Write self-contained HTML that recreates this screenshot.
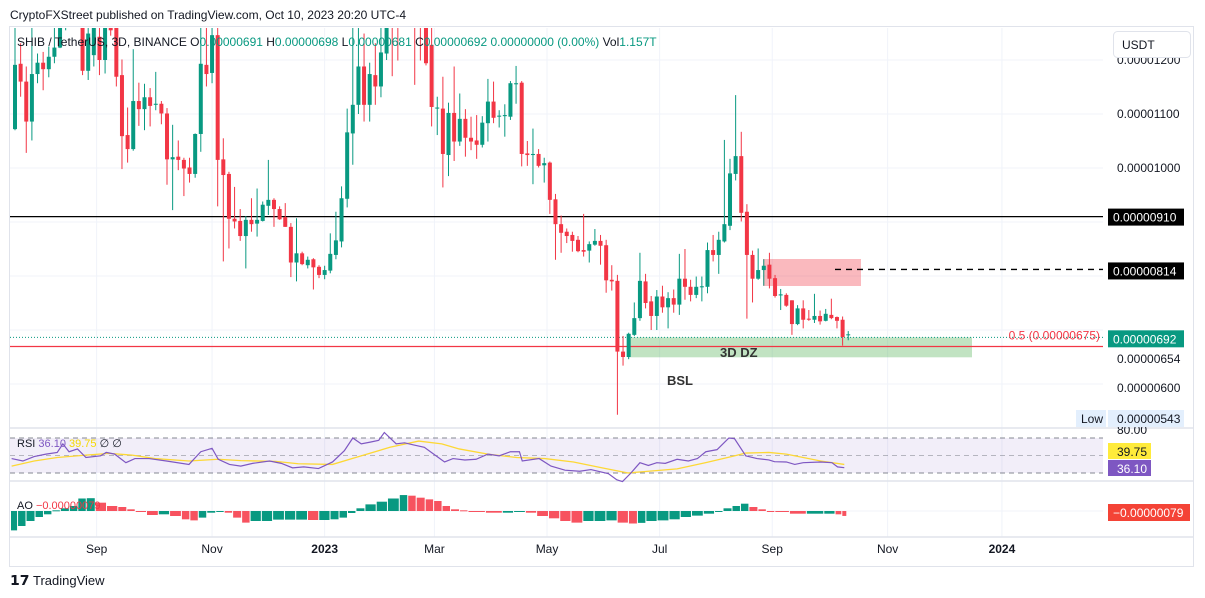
<!DOCTYPE html>
<html><head><meta charset="utf-8"><style>
html,body{margin:0;padding:0;background:#fff;width:1205px;height:598px;overflow:hidden}
svg{display:block;font-family:"Liberation Sans",sans-serif}
</style></head><body>
<svg id="c" width="1205" height="598" viewBox="0 0 1205 598">
<defs><clipPath id="mainClip"><rect x="10" y="28" width="1093" height="400"/></clipPath>
<clipPath id="rsiClip"><rect x="10" y="429" width="1093" height="51"/></clipPath></defs>
<text x="10" y="19" font-size="12" fill="#131722">CryptoFXStreet published on TradingView.com, Oct 10, 2023 20:20 UTC-4</text>
<rect x="9.5" y="26.5" width="1184" height="540" fill="#fff" stroke="#e0e3eb"/>
<g id="grid"></g>
<g id="main" clip-path="url(#mainClip)"></g>
<g id="rsi"></g>
<g id="ao"></g>
<g id="axis"></g>
<text x="17" y="46" font-size="12" fill="#131722">SHIB / TetherUS, 3D, BINANCE  <tspan>O</tspan><tspan fill="#089981">0.00000691</tspan>  H<tspan fill="#089981">0.00000698</tspan>  L<tspan fill="#089981">0.00000681</tspan>  C<tspan fill="#089981">0.00000692</tspan>  <tspan fill="#089981">0.00000000 (0.00%)</tspan>  Vol<tspan fill="#089981">1.157T</tspan></text>
<rect x="1113.5" y="31.5" width="77" height="26" rx="4" fill="#fff" stroke="#e0e3eb"/>
<text x="1122" y="49" font-size="12" fill="#131722">USDT</text>
<text x="17" y="447" font-size="11" fill="#131722">RSI <tspan fill="#7e57c2">36.10</tspan> <tspan fill="#f5d800">39.75</tspan> ∅ ∅</text>
<text x="17" y="509" font-size="11" fill="#131722">AO <tspan fill="#f23645">−0.00000079</tspan></text>
<g><text x="10" y="585" font-size="14" font-weight="bold" fill="#131722">𝟭𝟳</text><text x="33" y="585" font-size="13" fill="#131722">TradingView</text></g>
</svg>
<script>
const opens=[1072,1193,1160,1086,1174,1195,1183,1206,1223,1262,1290,1270,1290,1180,1209,1243,1200,1270,1270,1172,1061,1035,1124,1109,1131,1117,1119,1101,1016,1021,1015,1001,989,1063,1191,1176,1246,1016,989,906,902,874,904,897,902,930,941,924,909,891,825,842,820,831,817,802,810,839,864,943,1064,1117,1188,1117,1172,1151,1212,1300,1290,1275,1300,1310,1290,1280,1228,1110,1110,1024,1102,1049,1091,1056,1051,1043,1083,1123,1095,1096,1095,1155,1158,1027,1024,1026,1005,1010,942,896,882,876,867,848,847,858,865,857,793,791,660,650,691,722,790,753,726,762,742,759,747,795,780,765,779,780,848,839,864,893,989,1022,919,839,795,811,821,796,764,765,755,711,740,721,719,726,717,728,724,719,691];
const highs=[1300,1231,1188,1262,1212,1215,1225,1262,1300,1310,1300,1320,1310,1262,1290,1262,1290,1290,1290,1201,1112,1220,1158,1156,1148,1178,1124,1111,1080,1051,1019,1019,1064,1262,1262,1262,1300,1055,993,965,924,911,944,962,938,1015,944,929,935,898,907,845,836,833,820,819,879,919,966,1110,1262,1262,1249,1195,1231,1262,1300,1320,1310,1330,1330,1320,1300,1290,1262,1132,1169,1121,1188,1138,1109,1095,1098,1096,1165,1160,1107,1118,1161,1189,1161,1050,1073,1035,1019,1012,952,912,888,882,874,915,864,887,876,867,820,802,689,695,751,843,804,763,774,782,770,775,841,850,793,799,799,862,876,882,1052,1017,1135,1067,933,847,851,831,843,802,776,768,755,746,755,737,767,736,739,758,725,725,698];
const lows=[1070,1132,1028,1051,1157,1144,1168,1194,1222,1255,1262,1265,1172,1163,1188,1172,1175,1245,1151,998,1010,1032,1078,1070,1077,1107,1081,969,922,996,948,973,982,1030,1151,1157,929,827,851,888,865,814,882,873,901,913,891,904,891,798,790,820,814,775,796,794,805,831,853,927,1006,1100,1086,1086,1117,1131,1200,1170,1199,1260,1280,1154,1199,1190,1077,1061,964,985,1013,1041,1021,1033,1017,1038,1049,1083,1075,1058,1089,1119,1003,1004,970,1001,973,915,830,843,861,845,844,836,825,856,821,769,773,543,634,646,689,717,740,700,700,732,703,732,728,756,753,759,753,768,827,804,862,885,977,901,721,751,793,782,777,760,737,743,691,709,703,717,713,710,716,720,703,671,681];
const closes=[1191,1160,1086,1174,1195,1183,1206,1223,1262,1290,1270,1300,1180,1249,1270,1200,1270,1255,1169,1059,1035,1124,1109,1131,1115,1119,1101,1016,1020,1015,999,989,1063,1193,1174,1246,1015,987,906,901,874,904,896,904,932,941,924,905,891,825,842,822,830,816,802,811,841,866,944,1066,1117,1188,1117,1174,1151,1214,1262,1280,1275,1300,1310,1290,1280,1194,1113,1112,1026,1102,1049,1091,1056,1049,1043,1084,1123,1093,1097,1098,1157,1157,1026,1024,1026,1004,1009,941,896,880,874,865,846,845,859,865,856,792,790,660,650,693,722,791,750,726,762,742,759,747,795,780,765,780,781,848,839,867,896,990,1022,917,839,795,811,819,795,763,766,745,711,740,719,719,726,716,730,722,717,687,692];
const priceTicks=[1200,1100,1000,900,800,700,600];
const priceTickLabels=["0.00001200","0.00001100","0.00001000","","","",""];
const extraAxisLabels=[["0.00000654",654],["0.00000600",600]];
const timeLabels=["Sep","Nov","2023","Mar","May","Jul","Sep","Nov","2024"];
const timeIdx=[14.5,35,55,74.5,94.5,114.5,134.5,155,175.3];
const rsiIdx=[-0.6,1.4,3.4,5.5,7.5,8.5,9.6,11.1,12.6,15.2,16.2,17.7,19.7,21.3,23.8,26.9,30.9,33,35,36.1,38.1,40.1,42.2,45.2,47.3,49.3,51.3,53.9,56.4,58.5,60,61.5,63.1,64.6,65.6,67.7,69.2,70.7,72.7,74.8,76.3,77.8,79.9,81.9,84,86,88,89.6,90.1,93.1,95.2,97.7,100.3,102.3,105.4,106.9,107.9,109.4,111,112.5,114,115.5,117.6,119.6,121.2,122.7,124.7,126.8,127.8,129.8,131.8,133.9,134.9,137,138.5,140,143.1,145.1,146.1,147.3];
const rsiVal=[46.5,43.7,48.8,51.6,53.5,63.3,54.3,57.5,47.7,49.6,53.5,51.6,41.8,46.5,46.5,43.7,39.8,54.3,58.2,45.7,39.8,37.9,41,43.7,41,35.9,37,35.1,42.6,55.5,70,63.3,65.3,67.3,76.3,63.3,64.5,62.2,59.4,49.6,42.6,46.5,44.9,45.7,51.6,49.6,54.3,54.3,43.7,46.5,37.9,33.2,32,33.9,29.2,22.2,20.2,30,41.8,38.6,41.8,41,45.7,43.7,46.5,54.3,56.7,70,69.2,49.6,46.5,44.9,42.9,42.6,39.8,41.8,42.6,41.8,37,36.1];
const maIdx=[-0.6,3.4,7.5,12.6,16.7,20.8,24.8,30.9,36.1,40.1,46.3,50.3,56.4,60.5,66.6,71.7,75.8,78.9,84,89.1,94.1,99.2,104.3,108.9,112.5,117.6,122.7,127.8,129.8,133.9,137,140,143.1,147.3];
const maVal=[37.9,43.7,47.7,50.4,52.4,50.4,46.5,43.7,45.7,44.1,43.3,40.6,39.8,47.7,59.4,66.5,63.3,57.5,51.6,47.7,46.5,42.6,35.9,30,32,34.7,41.8,49.6,52.8,53.5,51.6,47.7,43.7,39.8];
const aoIdx=[-0.6,0.9,2.4,4,5.5,7,8.5,10.1,11.6,13.1,14.7,16.7,18.7,20.3,21.8,23.8,25.9,27.9,30,31.5,33,34.5,36.1,37.6,39.1,40.7,42.2,44.2,46.2,48.3,50.3,52.4,54.4,56.4,58,59.5,61,62.6,64.6,66.6,68.7,70.2,71.7,73.3,74.8,76.3,77.8,79.4,80.9,84,87,89,91.1,93.1,95.2,97.2,99.2,101.3,103.3,105.4,107.4,109.4,111,112.5,114.5,116.6,118.6,120.6,122.7,124.7,126.2,127.8,129.3,130.8,132.4,133.9,135.4,138,141,144.1,146.1,147.3];
const aoVal=[-310,-240,-160,-96,-53,11,43,80,200,205,133,80,64,27,-11,-64,-53,-80,-133,-150,-106,-27,-5,-27,-106,-186,-160,-160,-138,-138,-138,-144,-144,-133,-106,-32,43,106,149,200,255,245,213,186,160,80,27,11,-11,-27,-27,-11,-27,-80,-117,-160,-186,-160,-160,-150,-186,-200,-190,-160,-150,-133,-96,-74,-43,-11,43,80,117,64,27,0,-11,-43,-43,-43,-53,-79];

const NS="http://www.w3.org/2000/svg";
const X0=15,STEP=5.63,PL=10,PR=1103;
function xOf(i){return X0+i*STEP;}
function yP(p){return 168-(p-1000)*0.54;}
function yR(v){return 455.5-(v-50)*0.875;}
function yA(v){return 511-v/16;}
function mk(tag,attrs,parent,txt){const e=document.createElementNS(NS,tag);for(const k in attrs)e.setAttribute(k,attrs[k]);if(txt!==undefined)e.textContent=txt;parent.appendChild(e);return e;}
const grid=document.getElementById('grid'),main=document.getElementById('main'),rsi=document.getElementById('rsi'),ao=document.getElementById('ao'),axis=document.getElementById('axis');
// grid
priceTicks.forEach((p,k)=>{const l=mk('line',{x1:PL,x2:PR,y1:yP(p),y2:yP(p),stroke:'#f0f3fa'},grid);


if(priceTickLabels[k]){const t=mk('text',{x:1117,y:yP(p)+4,'font-size':12,fill:'#131722'},axis,priceTickLabels[k]);

}});
extraAxisLabels.forEach(a=>{const t=mk('text',{x:1117,y:yP(a[1])+8,'font-size':12,fill:'#131722'},axis,a[0]);

});
timeIdx.forEach((ti,k)=>{const x=xOf(ti);
const l=mk('line',{x1:x,x2:x,y1:28,y2:537,stroke:'#f0f3fa'},grid);


const bold=/^\d+$/.test(timeLabels[k]);
const t=mk('text',{x:x,y:553,'font-size':12,'text-anchor':'middle',fill:'#131722','font-weight':bold?'bold':'normal'},axis,timeLabels[k]);

});
// pane separators
[428,481,537].forEach(y=>{const l=mk('line',{x1:10,x2:1193,y1:y,y2:y,stroke:'#e0e3eb','stroke-width':1.5},grid);

});
// zones
let z=mk('rect',{x:628,y:yP(692)+3,width:344,height:20,fill:'#4caf50','fill-opacity':0.35},main);


z=mk('rect',{x:763,y:259,width:98,height:27,fill:'#f23645','fill-opacity':0.35},main);


let ln=mk('line',{x1:PL,x2:PR,y1:yP(910),y2:yP(910),stroke:'#000','stroke-width':1.3},main);


ln=mk('line',{x1:835,x2:PR,y1:yP(814)+1,y2:yP(814)+1,stroke:'#000','stroke-width':1.3,'stroke-dasharray':'6,5'},main);


ln=mk('line',{x1:PL,x2:PR,y1:yP(675)+3,y2:yP(675)+3,stroke:'#f23645','stroke-width':1.2},main);


ln=mk('line',{x1:PL,x2:PR,y1:yP(692)+3,y2:yP(692)+3,stroke:'#089981','stroke-dasharray':'1,2'},main);


// candles
for(let i=0;i<closes.length;i++){const up=closes[i]>=opens[i];const col=up?'#089981':'#f23645';const x=xOf(i);
const g=mk('g',{},main);


mk('line',{x1:x,x2:x,y1:yP(highs[i]),y2:yP(lows[i]),stroke:col,'stroke-width':1},g);
const t=yP(Math.max(opens[i],closes[i])),b=yP(Math.min(opens[i],closes[i]));
mk('rect',{x:x-2,y:t,width:4,height:Math.max(1,b-t),fill:col},g);}
let tx=mk('text',{x:1100,y:yP(675)-4,'font-size':12,fill:'#f23645','text-anchor':'end'},main,'0.5 (0.00000675)');


tx=mk('text',{x:720,y:357,'font-size':13,'font-weight':'bold',fill:'#333'},main,'3D DZ');


tx=mk('text',{x:667,y:385,'font-size':13,'font-weight':'bold',fill:'#333'},main,'BSL');


// price badges
function badge(y,txt,bg,fg,name,w){const g=mk('g',{},axis);


mk('rect',{x:1108,y:y-8,width:w||76,height:17,fill:bg},g);mk('text',{x:1113,y:y+5,'font-size':12,fill:fg},g,txt);}
badge(yP(910),'0.00000910','#000','#fff','resistance-badge');
badge(yP(814)+2,'0.00000814','#000','#fff','target-badge');
badge(yP(692)+4,'0.00000692','#089981','#fff','last-price-badge');
let g2=mk('g',{},axis);


mk('rect',{x:1076,y:410,width:30,height:17,fill:'#e3effd'},g2);mk('text',{x:1081,y:423,'font-size':12,fill:'#131722'},g2,'Low');
mk('rect',{x:1108,y:410,width:76,height:17,fill:'#e3effd'},g2);mk('text',{x:1117,y:423,'font-size':12,fill:'#131722'},g2,'0.00000543');
// RSI
let r=mk('rect',{x:PL,y:yR(70),width:PR-PL,height:yR(30)-yR(70),fill:'#7e57c2','fill-opacity':0.1},rsi);


[70,50,30].forEach(v=>{const l=mk('line',{x1:PL,x2:PR,y1:yR(v),y2:yR(v),stroke:'#787b86','stroke-dasharray':'5,4','stroke-width':1,'stroke-opacity':v==50?0.5:0.9},rsi);

});
let pm=maIdx.map((i,k)=>xOf(i)+','+yR(maVal[k])).join(' ');
let pl=mk('polyline',{points:pm,fill:'none',stroke:'#fdd835','stroke-width':1.3},rsi);


let pr=rsiIdx.map((i,k)=>xOf(i)+','+yR(rsiVal[k])).join(' ');
pl=mk('polyline',{points:pr,fill:'none',stroke:'#7e57c2','stroke-width':1.2},rsi);


tx=mk('text',{x:1117,y:434,'font-size':12,fill:'#131722'},rsi,'80.00');


g2=mk('g',{},rsi);


mk('rect',{x:1108,y:443,width:43,height:16,fill:'#ffeb3b'},g2);mk('text',{x:1117,y:456,'font-size':12,fill:'#131722'},g2,'39.75');
g2=mk('g',{},rsi);


mk('rect',{x:1108,y:460,width:43,height:16,fill:'#7e57c2'},g2);mk('text',{x:1117,y:473,'font-size':12,fill:'#fff'},g2,'36.10');
// AO
let zl=mk('line',{x1:PL,x2:PR,y1:yA(0),y2:yA(0),stroke:'#f0f3fa'},ao);


for(let k=0;k<aoVal.length;k++){const x1=Math.max(PL+1,xOf(aoIdx[k])-2);const nx=k<aoVal.length-1?xOf(aoIdx[k+1])-2:xOf(aoIdx[k])+3;
const col=(k>0&&aoVal[k]<aoVal[k-1])?'#f7525f':'#089981';
const y0=yA(0),y1=yA(aoVal[k]);
const b=mk('rect',{x:x1,y:Math.min(y0,y1),width:Math.max(1,nx-x1-1),height:Math.max(1,Math.abs(y1-y0)),fill:col},ao);

}
g2=mk('g',{},ao);


mk('rect',{x:1108,y:504,width:82,height:17,fill:'#f44336'},g2);mk('text',{x:1113,y:517,'font-size':12,fill:'#fff'},g2,'−0.00000079');
</script>
</body></html>
